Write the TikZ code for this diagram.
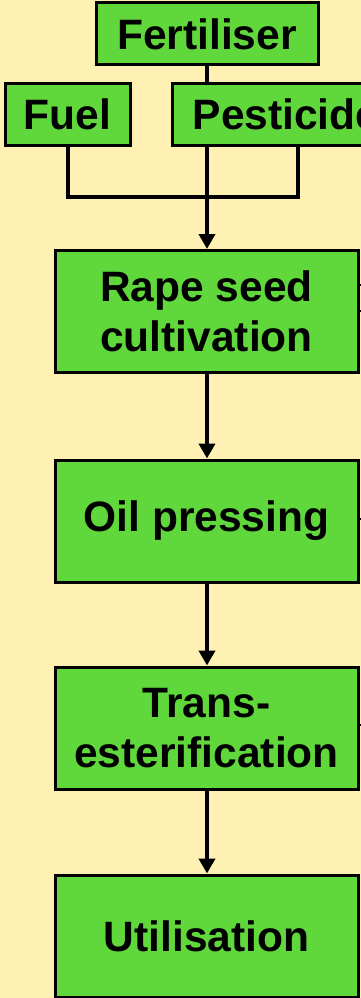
\documentclass[tikz,border=0pt]{standalone}
\usepackage{fontspec}
\setmainfont{Liberation Sans}
\usetikzlibrary{arrows.meta}
\definecolor{paper}{RGB}{255,240,180}
\definecolor{leaf}{RGB}{96,216,60}
\begin{document}
\begin{tikzpicture}[x=1pt,y=-1pt,
  box/.style={draw=black, line width=3pt, fill=leaf, inner sep=0pt, align=center,
    font=\fontsize{42.5}{50}\selectfont\bfseries},
  input/.style={box, minimum height=62pt},
  stage/.style={box, minimum width=303pt, minimum height=122pt},
  link/.style={line width=4pt, line join=miter},
  flow/.style={link, -{Triangle[width=16pt,length=15pt]}},
  stub/.style={line width=2pt}]
\fill[paper] (0,0) rectangle (361,998);
\clip (0,0) rectangle (361,998);

% inputs
\node[input, minimum width=222pt] (fert) at (207,34) {Fertiliser};
\node[input, minimum width=125pt] (fuel) at (67.5,114.5) {Fuel};
\node[input, minimum width=228pt] (pest) at (286,114.5) {Pesticide};

% process chain
\node[stage] (rape) at (206.5,311.5) {Rape seed\\cultivation};
\node[stage] (oil)  at (206.5,521)   {Oil pressing};
\node[stage] (trans) at (206.5,728)  {Trans-\\esterification};
\node[stage] (util) at (206.5,936)   {Utilisation};

% helper points for the merging connectors
\coordinate (mainx) at (207,0);
\coordinate (pestx) at (298,0);
\coordinate (busy) at (0,197);

\draw[link] (fert.south -| mainx) -- (pest.north -| mainx);
\draw[link] (fuel.south) -- (fuel.south |- busy) -- (busy -| pestx) -- (pest.south -| pestx);
\draw[flow] (pest.south -| mainx) -- (rape.north -| mainx);

\draw[flow] (rape.south -| mainx) -- (oil.north -| mainx);
\draw[flow] (oil.south -| mainx) -- (trans.north -| mainx);
\draw[flow] (trans.south -| mainx) -- (util.north -| mainx);

% side outputs leaving to the right
\coordinate (edge) at (361,0);
\coordinate (r1) at (0,285);
\coordinate (r2) at (0,311);
\coordinate (o1) at (0,519);
\coordinate (t1) at (0,725);
\draw[stub] (rape.east |- r1) -- (edge |- r1);
\draw[stub] (rape.east |- r2) -- (edge |- r2);
\draw[stub] (oil.east |- o1) -- (edge |- o1);
\draw[stub] (trans.east |- t1) -- (edge |- t1);
\end{tikzpicture}
\end{document}
